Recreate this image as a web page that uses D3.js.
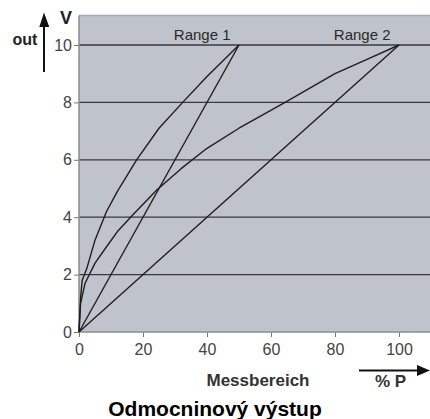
<!DOCTYPE html>
<html><head><meta charset="utf-8">
<script src="https://cdn.jsdelivr.net/npm/d3@7"></script>
<style>body{margin:0;background:#fff}svg{display:block;font-family:"Liberation Sans",Arial,sans-serif}</style>
</head><body><svg id="c" width="430" height="419"></svg>
<script>
// Data (x = % P, y = V out)
const range1SqrtX = [0, 0.5, 1, 2.4, 5, 8.6, 12, 18, 25, 32.4, 40, 45, 50];
const range1SqrtY = [0, 1.2, 1.8, 2.2, 3.2, 4.2, 4.9, 6.0, 7.1, 8.0, 8.9, 9.45, 10];
const range2SqrtX = [0, 0.5, 1.9, 5, 8.6, 12, 17, 24.3, 32, 40, 50, 64.4, 80, 90, 100];
const range2SqrtY = [0, 1.0, 1.7, 2.4, 2.97, 3.5, 4.1, 4.95, 5.7, 6.4, 7.1, 8.0, 9.0, 9.5, 10];
const range1LinX = [0, 50];
const range1LinY = [0, 10];
const range2LinX = [0, 100];
const range2LinY = [0, 10];
const xTicks = [0, 20, 40, 60, 80, 100];
const yTicks = [0, 2, 4, 6, 8, 10];
const gridValues = [2, 4, 6, 8, 10];
const rangeLabels = ["Range 1", "Range 2"];
const rangeLabelX = [38.5, 88.5];

const svg = d3.select("#c");
const x = d3.scaleLinear().domain([0, 100]).range([79, 399]);
const y = d3.scaleLinear().domain([0, 10]).range([332, 45]);
const xMax = x.invert(430), yMax = y.invert(15.5);

// plot background
svg.append("rect").attr("x", x(0)).attr("y", y(yMax)).attr("width", x(xMax) - x(0)).attr("height", y(0) - y(yMax))
  .attr("fill", "#bfc3cb");
// border top
svg.append("line").attr("x1", x(0)).attr("x2", x(xMax)).attr("y1", y(yMax)).attr("y2", y(yMax)).attr("stroke", "#a9acb2").attr("stroke-width", 1.5);
// grid
svg.selectAll(".grid").data(gridValues).join("line")
  .attr("x1", x(0)).attr("x2", x(xMax)).attr("y1", d => y(d)).attr("y2", d => y(d))
  .attr("stroke", "#3a3a3e").attr("stroke-width", 1.3);

// axes
const yAxis = d3.axisLeft(y).tickValues(yTicks).tickSize(5).tickPadding(2).tickFormat(d3.format("d"));
const gy = svg.append("g").attr("transform", `translate(${x(0)},0)`).call(yAxis);
const xAxis = d3.axisBottom(x).tickValues(xTicks).tickSize(5).tickPadding(7).tickFormat(d3.format("d"));
const gx = svg.append("g").attr("transform", `translate(0,${y(0)})`).call(xAxis);
[gx, gy].forEach(g => {
  g.select(".domain").remove();
  g.selectAll(".tick line").attr("stroke", "#777");
  g.selectAll("text").attr("fill", "#444").attr("font-size", 16);
});
svg.append("line").attr("x1", x(0)).attr("x2", x(0)).attr("y1", y(yMax)).attr("y2", y(0)).attr("stroke", "#8a8c90").attr("stroke-width", 1.5);
svg.append("line").attr("x1", x(0)).attr("x2", x(xMax)).attr("y1", y(0)).attr("y2", y(0)).attr("stroke", "#8a8c90").attr("stroke-width", 1.5);

// curves
const line = d3.line().x(d => x(d[0])).y(d => y(d[1]));
const series = [
  [range1SqrtX, range1SqrtY], [range2SqrtX, range2SqrtY],
  [range1LinX, range1LinY], [range2LinX, range2LinY]
];
series.forEach(([xs, ys]) => {
  svg.append("path").datum(xs.map((v, i) => [v, ys[i]])).attr("d", line)
    .attr("fill", "none").attr("stroke", "#1e1e22").attr("stroke-width", 1.4).attr("stroke-linejoin", "round");
});

// range labels
svg.selectAll(".rl").data(rangeLabels).join("text")
  .attr("x", (d, i) => x(rangeLabelX[i])).attr("y", 40).attr("text-anchor", "middle")
  .attr("font-size", 15).attr("fill", "#2a2a2a").text(d => d);

// axis titles
svg.append("text").attr("x", 66).attr("y", 24).attr("text-anchor", "middle").attr("font-weight", "bold").attr("font-size", 18).attr("fill", "#222").text("V");
svg.append("text").attr("x", 25).attr("y", 45).attr("text-anchor", "middle").attr("font-weight", "bold").attr("font-size", 16).attr("fill", "#222").text("out");
svg.append("line").attr("x1", 44).attr("x2", 44).attr("y1", 72).attr("y2", 24).attr("stroke", "#111").attr("stroke-width", 2);
svg.append("path").attr("d", "M44,12.5 L39.3,27 L49.3,27 Z").attr("fill", "#111");

svg.append("text").attr("x", 258).attr("y", 386).attr("text-anchor", "middle").attr("font-weight", "bold").attr("font-size", 17).attr("fill", "#333").text("Messbereich");
svg.append("text").attr("x", 390.5).attr("y", 386.5).attr("text-anchor", "middle").attr("font-weight", "bold").attr("font-size", 17).attr("fill", "#333").text("% P");
svg.append("line").attr("x1", 359).attr("x2", 420).attr("y1", 370.5).attr("y2", 370.5).attr("stroke", "#111").attr("stroke-width", 1.8);
svg.append("path").attr("d", "M430,370.5 L417,365 L417,376 Z").attr("fill", "#111");

svg.append("text").attr("x", 215).attr("y", 416).attr("text-anchor", "middle").attr("font-weight", "bold").attr("font-size", 21).attr("fill", "#000").text("Odmocninový výstup");
</script></body></html>
